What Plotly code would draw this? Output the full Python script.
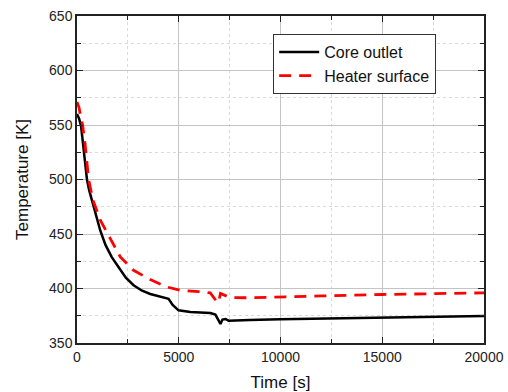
import plotly.graph_objects as go

core_t = [0, 100, 200, 300, 400, 490, 600, 735, 900, 1146, 1400, 1700, 2030, 2400, 2780,
          3200, 3600, 4000, 4340, 4500, 4700, 4990, 5570, 6550, 6800, 6950, 7050, 7150,
          7300, 7450, 7700, 8500, 10000, 12000, 14900, 17500, 20000]
core_T = [560, 556, 549, 533, 516, 500, 490, 481, 468, 453, 440, 429, 420, 410, 403,
          398, 395, 393, 392, 390.5, 385, 380, 378.4, 377.5, 376, 370, 367.5, 371.5,
          372, 370.5, 370.5, 371, 371.8, 372.3, 373, 374, 374.8]

heater_t = [0, 100, 200, 275, 400, 570, 785, 1146, 1637, 2127, 2780, 3600, 4420, 5075,
            6000, 6385, 6550, 6880, 6950, 7050, 7530, 8500, 10000, 12000, 15000, 17500, 20000]
heater_T = [571, 566, 556, 550, 532, 500, 481, 462.6, 445.8, 429, 416.7, 408.2, 401.4, 398.3,
            397.2, 396.8, 396, 387.6, 387, 395.5, 391.6, 391.5, 392.5, 393.2, 394.5, 395.5, 396]

x_ticks = [0, 5000, 10000, 15000, 20000]

FONT = "Liberation Sans, Arial, sans-serif"

fig = go.Figure()
fig.add_trace(go.Scatter(x=core_t, y=core_T, mode="lines", name="Core outlet",
                         line=dict(color="black", width=2.5)))
fig.add_trace(go.Scatter(x=heater_t, y=heater_T, mode="lines", name="Heater surface",
                         line=dict(color="#ff0000", width=2.8, dash="12px,8px")))

axis_common = dict(
    showline=True, linecolor="#222", linewidth=1.5, mirror="allticks",
    ticks="inside", ticklen=6, tickcolor="#222", tickwidth=1.2,
    showgrid=True, gridcolor="#c4c4c4", gridwidth=1,
    zeroline=False,
    tickfont=dict(family=FONT, size=14, color="#222"),
    title_font=dict(family=FONT, size=17, color="#111"),
)

fig.update_xaxes(range=[0, 20000], tickvals=x_ticks, ticktext=[str(v) for v in x_ticks],
                 title_text="Time [s]", title_standoff=16, automargin=False,
                 minor=dict(dtick=2500, ticks="inside", ticklen=4, tickcolor="#222",
                            showgrid=True, gridcolor="#dadada", griddash="dot", gridwidth=1),
                 **axis_common)
fig.update_yaxes(range=[350, 650], dtick=50,
                 title_text="Temperature [K]", title_standoff=16, automargin=False,
                 minor=dict(dtick=25, ticks="inside", ticklen=4, tickcolor="#222",
                            showgrid=True, gridcolor="#dadada", griddash="dot", gridwidth=1),
                 **axis_common)

fig.update_layout(
    width=508, height=392,
    margin=dict(l=77, r=24, t=16, b=49),
    paper_bgcolor="white", plot_bgcolor="white",
    font=dict(family=FONT, size=14, color="#111"),
    showlegend=True,
    legend=dict(x=0.482, y=0.945, xanchor="left", yanchor="top",
                bgcolor="white", bordercolor="#333", borderwidth=1,
                font=dict(family=FONT, size=16, color="#111"),
                tracegroupgap=0, itemwidth=40),
)

fig.write_html("out.html")
